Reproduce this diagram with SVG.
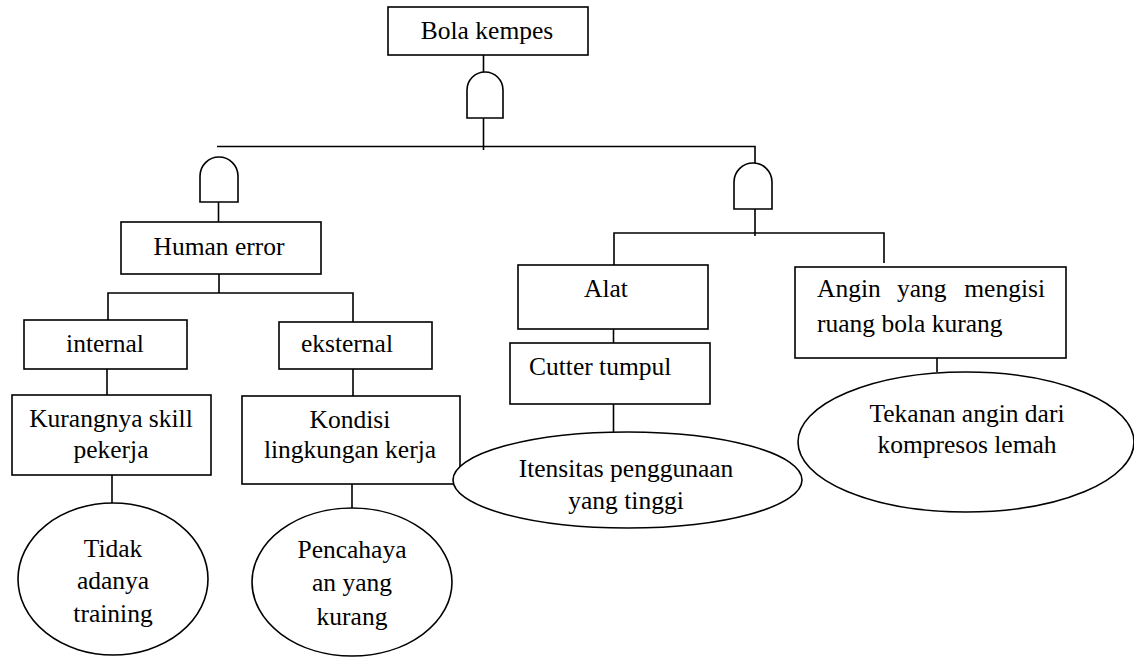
<svg xmlns="http://www.w3.org/2000/svg" width="1134" height="657" viewBox="0 0 1134 657">
  <style>
    .box { fill: #ffffff; stroke: #000000; stroke-width: 1.6; }
    .ell { fill: #ffffff; stroke: #000000; stroke-width: 1.6; }
    .gate { fill: #ffffff; stroke: #000000; stroke-width: 1.6; }
    .wire { fill: none; stroke: #000000; stroke-width: 1.6; }
    text { font-family: "Liberation Serif", "Times New Roman", serif; font-size: 25.5px; fill: #000000; }
    .c { text-anchor: middle; }
  </style>

  <rect width="1134" height="657" fill="#ffffff"/>

  <!-- connectors -->
  <g id="connectors">
    <!-- top event to AND gate, gate to main bus -->
    <path class="wire" d="M483.5,55 V72 M483.5,118 V150"/>
    <path class="wire" d="M217,146.5 H755 V163"/>
    <!-- left AND gate to Human error -->
    <path class="wire" d="M218.5,202 V227"/>
    <!-- Human error branches -->
    <path class="wire" d="M219,274 V293 M108,320 V293 H353 V322"/>
    <path class="wire" d="M107,369 V395"/>
    <path class="wire" d="M112,475 V503"/>
    <path class="wire" d="M353,369 V396"/>
    <path class="wire" d="M352,484 V508"/>
    <!-- right AND gate branches -->
    <path class="wire" d="M755,209 V236 M614,265 V233 H884 V263"/>
    <path class="wire" d="M613.5,329 V343"/>
    <path class="wire" d="M613.5,404 V432"/>
    <path class="wire" d="M937,343 V372"/>
  </g>

  <!-- top event -->
  <g id="bola-kempes">
    <rect class="box" x="388" y="7" width="200" height="48"/>
    <text class="c" x="487" y="39">Bola kempes</text>
  </g>

  <!-- AND gates -->
  <g id="gate-top">
    <path class="gate" d="M467,118 V90 A18,18 0 0 1 503,90 V118 Z"/>
  </g>
  <g id="gate-left">
    <path class="gate" d="M200,202 V176 A19,19 0 0 1 238,176 V202 Z"/>
  </g>
  <g id="gate-right">
    <path class="gate" d="M734,209 V182 A19,19 0 0 1 772,182 V209 Z"/>
  </g>

  <!-- left branch -->
  <g id="human-error">
    <rect class="box" x="121" y="222" width="200" height="52"/>
    <text class="c" x="219" y="255">Human error</text>
  </g>
  <g id="internal">
    <rect class="box" x="24" y="320" width="163" height="49"/>
    <text class="c" x="105" y="352">internal</text>
  </g>
  <g id="eksternal">
    <rect class="box" x="279" y="322" width="153" height="47"/>
    <text class="c" x="347" y="352">eksternal</text>
  </g>
  <g id="kurangnya-skill">
    <rect class="box" x="12" y="395" width="199" height="80"/>
    <text class="c" x="111" y="427">Kurangnya skill</text>
    <text class="c" x="111" y="458">pekerja</text>
  </g>
  <g id="kondisi-lingkungan">
    <rect class="box" x="242" y="396" width="218" height="88"/>
    <text class="c" x="350" y="428">Kondisi</text>
    <text class="c" x="350" y="458">lingkungan kerja</text>
  </g>
  <g id="tidak-training">
    <ellipse class="ell" cx="113" cy="579" rx="95" ry="76"/>
    <text class="c" x="113" y="557">Tidak</text>
    <text class="c" x="113" y="589">adanya</text>
    <text class="c" x="113" y="622">training</text>
  </g>
  <g id="pencahayaan">
    <ellipse class="ell" cx="352" cy="582" rx="100" ry="74"/>
    <text class="c" x="352" y="558">Pencahaya</text>
    <text class="c" x="352" y="591">an yang</text>
    <text class="c" x="352" y="625">kurang</text>
  </g>

  <!-- right branch -->
  <g id="alat">
    <rect class="box" x="518" y="265" width="190" height="64"/>
    <text class="c" x="606" y="297">Alat</text>
  </g>
  <g id="cutter-tumpul">
    <rect class="box" x="510" y="343" width="200" height="61"/>
    <text x="529" y="375">Cutter tumpul</text>
  </g>
  <g id="itensitas">
    <ellipse class="ell" cx="627.5" cy="480" rx="174.5" ry="48"/>
    <text class="c" x="626" y="477">Itensitas penggunaan</text>
    <text class="c" x="626" y="509">yang tinggi</text>
  </g>
  <g id="angin-kurang">
    <rect class="box" x="795" y="267" width="271" height="91"/>
    <text x="817" y="297">Angin</text>
    <text x="897" y="297">yang</text>
    <text x="1045" y="297" text-anchor="end">mengisi</text>
    <text x="817" y="332">ruang bola kurang</text>
  </g>
  <g id="tekanan-angin">
    <ellipse class="ell" cx="966" cy="442" rx="168" ry="70"/>
    <text class="c" x="967" y="422">Tekanan angin dari</text>
    <text class="c" x="967" y="453">kompresos lemah</text>
  </g>
</svg>
